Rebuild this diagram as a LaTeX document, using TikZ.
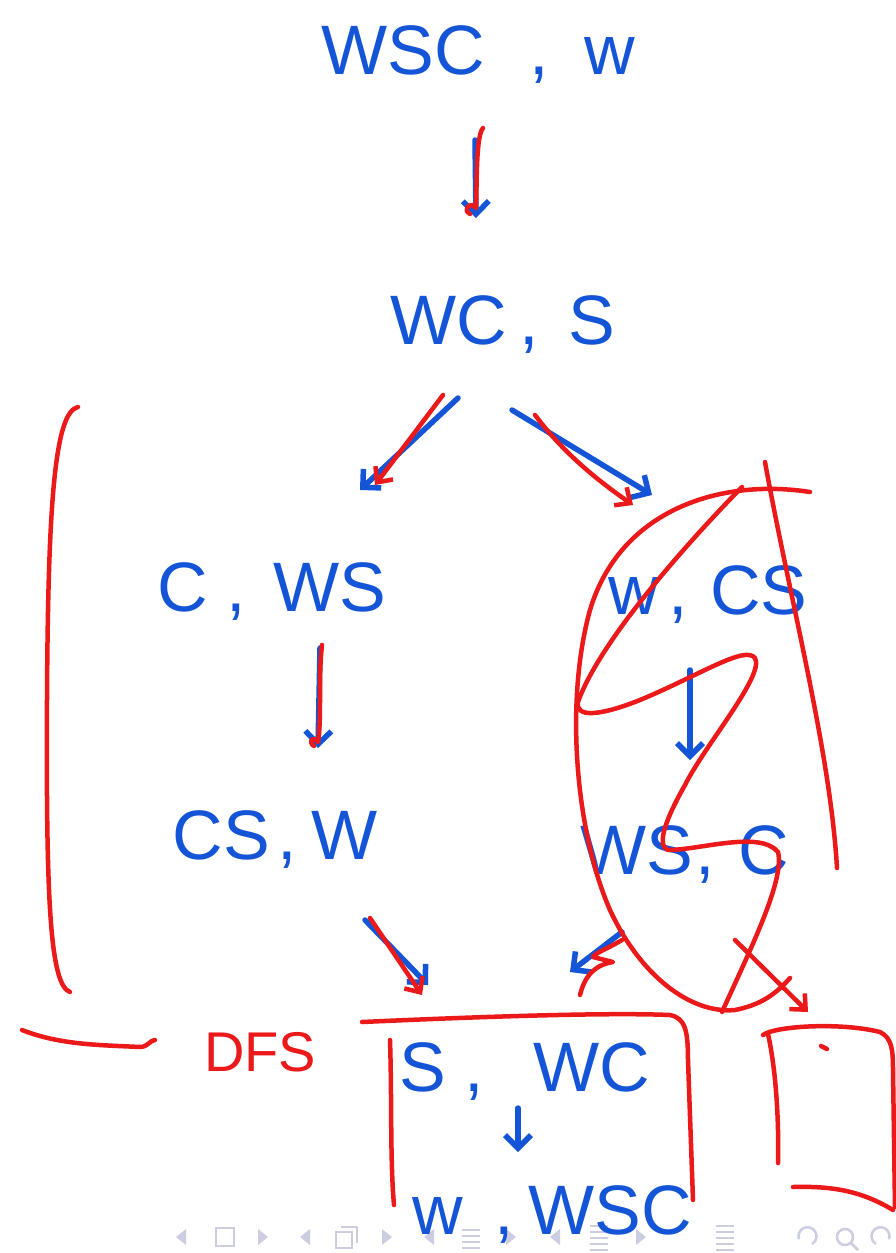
\documentclass[tikz,border=0pt]{standalone}
\usepackage{fontspec}
\setmainfont{Liberation Sans}
\usetikzlibrary{arrows.meta}
\definecolor{ink}{RGB}{20,85,215}
\definecolor{pen}{RGB}{235,25,25}
\definecolor{navc}{RGB}{205,205,225}
\tikzset{
  lbl/.style={text=ink, font=\fontsize{70}{70}\selectfont, inner sep=0pt},
  dfslbl/.style={text=pen, font=\fontsize{56}{56}\selectfont, inner sep=0pt},
  bstroke/.style={draw=ink, line width=5.5pt, line cap=round, line join=round},
  rstroke/.style={draw=pen, line width=4.5pt, line cap=round, line join=round},
  barrow/.style={bstroke, -{Straight Barb[length=13pt,width=26pt]}},
  rarrow/.style={rstroke, -{Straight Barb[length=12pt,width=22pt]}},
  navshape/.style={fill=navc, draw=none},
  navline/.style={draw=navc, line width=2.5pt},
}
\begin{document}
\begin{tikzpicture}[x=1pt,y=-1pt]
\useasboundingbox (0,0) rectangle (896,1253);
\fill[white] (0,0) rectangle (896,1253);

% ---- navigation bar (light) ----
\fill[navshape] (186,1229) -- (176,1237) -- (186,1245) -- cycle;
\draw[navline] (216,1228) rectangle (234,1246);
\fill[navshape] (258,1229) -- (268,1237) -- (258,1245) -- cycle;
\fill[navshape] (310,1229) -- (300,1237) -- (310,1245) -- cycle;
\draw[navline] (336,1232) rectangle (352,1248);
\draw[navline] (341,1227) -- (357,1227) -- (357,1243);
\fill[navshape] (382,1229) -- (392,1237) -- (382,1245) -- cycle;
\fill[navshape] (434,1229) -- (424,1237) -- (434,1245) -- cycle;
\foreach \yy in {1230,1236,1242,1248} \draw[navline] (462,\yy) -- (480,\yy);
\fill[navshape] (506,1229) -- (516,1237) -- (506,1245) -- cycle;
\fill[navshape] (560,1229) -- (550,1237) -- (560,1245) -- cycle;
\foreach \yy in {1226,1232,1238,1244,1250} \draw[navline] (590,\yy) -- (608,\yy);
\fill[navshape] (636,1229) -- (646,1237) -- (636,1245) -- cycle;
\foreach \yy in {1226,1232,1238,1244,1250} \draw[navline] (716,\yy) -- (734,\yy);
\draw[navline] (812,1244) arc[start angle=-60, end angle=200, radius=9pt];
\draw[navline] (845,1237) circle[radius=8pt];
\draw[navline] (851,1243) -- (858,1250);
\draw[navline] (876,1244) arc[start angle=240, end angle=-20, radius=9pt];

% ---- blue state labels ----
\node[lbl] (s0) at (478,55) {WSC\hspace{45pt},\hspace{35pt}w};
\node[lbl] (s1) at (503,325) {WC\hspace{12pt},\hspace{30pt}S};
\node[lbl] (s2) at (272,592) {C\hspace{18pt},\hspace{28pt}WS};
\node[lbl] (s3) at (708,595) {w\hspace{10pt},\hspace{22pt}CS};
\node[lbl] (s4) at (275,840) {CS\hspace{8pt},\hspace{14pt}W};
\node[lbl] (s5) at (685,855) {WS\hspace{2pt},\hspace{24pt}C};
\node[lbl] (s6) at (525,1072) {S\hspace{18pt},\hspace{50pt}WC};
\node[lbl] (s7) at (552,1215) {w\hspace{32pt},\hspace{14pt}WSC};
\node[dfslbl] (dfs) at (260,1052) {DFS};

% ---- arrow end points ----
\coordinate (a0s) at (475,140);  \coordinate (a0e) at (476,218);
\coordinate (a1s) at (458,398);  \coordinate (a1e) at (360,490);
\coordinate (a2s) at (512,410);  \coordinate (a2e) at (652,495);
\coordinate (a3s) at (320,648);  \coordinate (a3e) at (318,748);
\coordinate (a4s) at (690,670);  \coordinate (a4e) at (690,760);
\coordinate (a5s) at (365,920);  \coordinate (a5e) at (428,985);
\coordinate (a6s) at (622,932);  \coordinate (a6e) at (570,972);
\coordinate (a7s) at (518,1108); \coordinate (a7e) at (518,1152);

% ---- blue arrows ----
\draw[barrow] (a0s) -- (a0e);
\draw[barrow] (a1s) -- (a1e);
\draw[barrow] (a2s) -- (a2e);
\draw[barrow] (a3s) -- (a3e);
\draw[barrow] (a4s) -- (a4e);
\draw[barrow] (a5s) -- (a5e);
\draw[barrow] (a6s) -- (a6e);
\draw[barrow] (a7s) -- (a7e);

% ---- red tracing over arrows ----
\draw[rstroke] (483,128) .. controls (476,136) and (477,180) .. (476,208)
   .. controls (470,200) and (462,210) .. (470,214);
\draw[rarrow] (443,395) -- (375,485);
\draw[rarrow] (535,415) .. controls (565,455) and (600,482) .. (633,505);
\draw[rstroke] (322,645) .. controls (318,680) and (322,715) .. (318,742)
   .. controls (312,735) and (308,742) .. (314,746);
\draw[rarrow] (370,918) -- (422,995);
\draw[rstroke] (622,940) .. controls (605,950) and (595,953) .. (593,957)
   -- (613,962) .. controls (595,965) and (585,975) .. (580,995);
\draw[rarrow] (735,940) -- (808,1012);

% ---- big left bracket and DFS pointer ----
\draw[rstroke] (78,407) .. controls (55,412) and (48,500) .. (47,700)
   .. controls (46,900) and (50,985) .. (70,992);
\draw[rstroke] (22,1030) .. controls (60,1045) and (100,1045) .. (140,1047)
   .. controls (148,1047) and (150,1040) .. (155,1040);

% ---- box around goal path ----
\draw[rstroke] (362,1022) .. controls (450,1018) and (600,1012) .. (670,1015)
   .. controls (685,1018) and (688,1030) .. (688,1060) -- (693,1200);
\draw[rstroke] (390,1040) .. controls (392,1100) and (390,1160) .. (394,1205);

% ---- small box at right ----
\draw[rstroke] (763,1035) .. controls (775,1026) and (840,1022) .. (880,1032)
   .. controls (892,1038) and (893,1050) .. (893,1070) -- (895,1207);
\draw[rstroke] (768,1034) .. controls (776,1070) and (779,1120) .. (778,1163);
\draw[rstroke] (793,1187) .. controls (830,1186) and (860,1190) .. (893,1210);
\draw[rstroke] (821,1046) -- (827,1049);

% ---- big ellipse with scribble ----
\draw[rstroke] (810,492) .. controls (720,478) and (620,510) .. (590,610)
   .. controls (565,700) and (575,830) .. (610,910)
   .. controls (640,975) and (690,1014) .. (735,1010)
   .. controls (760,1005) and (775,995) .. (790,978);
\draw[rstroke] (742,487) .. controls (690,540) and (600,640) .. (578,702)
   .. controls (575,718) and (600,716) .. (640,700)
   .. controls (700,675) and (745,645) .. (755,658)
   .. controls (765,675) and (705,745) .. (685,785)
   .. controls (668,815) and (655,845) .. (668,850)
   .. controls (700,850) and (760,830) .. (778,852)
   .. controls (785,880) and (750,950) .. (722,1012);
\draw[rstroke] (765,462) .. controls (790,600) and (830,750) .. (837,868);
\end{tikzpicture}
\end{document}
